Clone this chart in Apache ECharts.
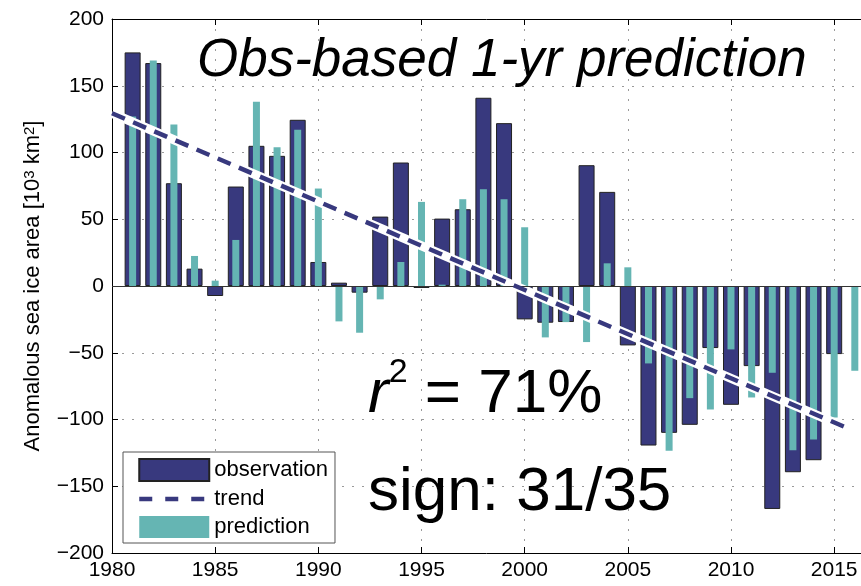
<!DOCTYPE html>
<html>
<head>
<meta charset="utf-8">
<script src="https://cdn.jsdelivr.net/npm/echarts@6/dist/echarts.min.js"></script>
<style>
html,body{margin:0;padding:0;background:#fff;}
#chart{width:861px;height:586px;}
</style>
</head>
<body>
<div id="chart"></div>
<script>
const obsYears = [1981,1982,1983,1984,1985,1986,1987,1988,1989,1990,1991,1992,1993,1994,1995,1996,1997,1998,1999,2000,2001,2002,2003,2004,2005,2006,2007,2008,2009,2010,2011,2012,2013,2014,2015];
const obsValues = [175,167,77,13,-7.5,74.5,105,97.5,124.5,18,2.5,-5,52,92.5,-1.5,50.5,57.5,141,122,-25,-27.5,-27,90.5,70.5,-44.5,-119.5,-110,-104,-46.5,-89,-60,-167,-139.5,-130.5,-51];
const predYears = [1981,1982,1983,1984,1985,1986,1987,1988,1989,1990,1991,1992,1993,1994,1995,1996,1997,1998,1999,2000,2001,2002,2003,2004,2005,2006,2007,2008,2009,2010,2011,2012,2013,2014,2015,2016];
const predValues = [127,169,121,22.5,4,34.5,138,104,117,73,-26.5,-35,-10,18,63,1,65,72.5,65,44,-38.5,-27,-42,17,14,-58,-123.5,-84,-92.5,-47.5,-83.5,-65,-123,-115,-98.5,-63.5];
const trendYears = [1980, 2015.8];
const trendValues = [129.4, -107.5];
const xTicks = [1980,1985,1990,1995,2000,2005,2010,2015];
const yTicks = [-200,-150,-100,-50,0,50,100,150,200];

const FONT = '"Liberation Sans", Arial, Helvetica, sans-serif';
const NAVY = '#38397e';
const TEAL = '#65b5b3';

const pair = (xs, ys) => xs.map((x, i) => [x, ys[i]]);

const chart = echarts.init(document.getElementById('chart'), null, {renderer: 'canvas'});

const gridLine = {show: true, lineStyle: {color: '#9a9a9a', width: 1, type: [2, 8]}};
const X_MAX = 2016.3;

chart.setOption({
  animation: false,
  backgroundColor: '#fff',
  grid: {left: 112, top: 19, right: 0, bottom: 33, containLabel: false},
  xAxis: [
    {
      type: 'value', position: 'bottom', min: 1980, max: X_MAX, interval: 5,
      axisLine: {show: true, onZero: false, lineStyle: {color: '#000', width: 1}},
      axisTick: {show: true, inside: true, length: 6, lineStyle: {color: '#000'}},
      axisLabel: {
        color: '#000', fontSize: 21, fontFamily: FONT, margin: 7,
        showMaxLabel: false,
        formatter: v => xTicks.indexOf(v) >= 0 ? String(v) : ''
      },
      splitLine: gridLine
    },
    {
      type: 'value', position: 'top', min: 1980, max: X_MAX, interval: 5,
      axisLine: {show: true, onZero: false, lineStyle: {color: '#000', width: 1}},
      axisTick: {show: true, inside: true, length: 6, lineStyle: {color: '#000'}},
      axisLabel: {show: false},
      splitLine: {show: false}
    }
  ],
  yAxis: {
    type: 'value', min: -200, max: 200, interval: 50,
    axisLine: {show: true, onZero: false, lineStyle: {color: '#000', width: 1}},
    axisTick: {show: true, inside: true, length: 6, lineStyle: {color: '#000'}},
    axisLabel: {
      color: '#000', fontSize: 21, fontFamily: FONT, margin: 8,
      formatter: v => yTicks.indexOf(v) >= 0 ? String(v).replace('-', '\u2212') : ''
    },
    splitLine: gridLine,
    name: 'Anomalous sea ice area [10{sup|3} km{sup|2}]',
    nameLocation: 'middle',
    nameRotate: 90,
    nameGap: 68,
    nameTextStyle: {
      color: '#000', fontSize: 22, fontFamily: FONT,
      rich: {sup: {fontSize: 15, fontFamily: FONT, color: '#000', verticalAlign: 'top'}}
    }
  },
  legend: {
    orient: 'vertical', left: 123, top: 452,
    padding: [6, 7, 5, 14],
    itemWidth: 70, itemHeight: 22, itemGap: 6,
    borderColor: '#555', borderWidth: 1, backgroundColor: '#fff',
    textStyle: {color: '#000', fontSize: 22, fontFamily: FONT},
    selectedMode: false,
    data: [
      {name: 'observation', icon: 'rect'},
      {name: 'trend', lineStyle: {type: [13, 13], width: 4.5}, itemStyle: {color: 'rgba(0,0,0,0)', borderWidth: 0, opacity: 0}},
      {name: 'prediction', icon: 'rect'}
    ]
  },
  series: [
    {
      name: 'observation', type: 'bar', xAxisIndex: 0,
      data: pair(obsYears, obsValues),
      barWidth: 16,
      itemStyle: {color: NAVY, borderColor: '#222', borderWidth: 1},
      z: 2,
      markLine: {
        silent: true, symbol: 'none', label: {show: false},
        lineStyle: {color: '#333', width: 1, type: 'solid'},
        data: [{yAxis: 0}]
      }
    },
    {
      name: 'prediction', type: 'bar', xAxisIndex: 1,
      data: pair(predYears, predValues),
      barWidth: 7,
      itemStyle: {color: TEAL, borderWidth: 0},
      z: 3
    },
    {
      name: 'trendHalo', type: 'line', xAxisIndex: 0,
      data: pair(trendYears, trendValues),
      symbol: 'none', silent: true,
      lineStyle: {color: '#fff', width: 9, type: 'solid'},
      z: 4
    },
    {
      name: 'trend', type: 'line', xAxisIndex: 0,
      data: pair(trendYears, trendValues),
      symbol: 'none',
      lineStyle: {color: NAVY, width: 4.5, type: [14, 9]},
      itemStyle: {color: NAVY},
      z: 5
    }
  ],
  graphic: [
    {
      type: 'text', z: 10,
      style: {
        text: 'Obs-based 1-yr prediction', x: 197, y: 61,
        font: 'italic 53px ' + FONT, fill: '#000',
        textAlign: 'left', textVerticalAlign: 'middle'
      }
    },
    {
      type: 'text', z: 10,
      style: {
        text: '{r|r}{s|2}{n| = 71%}', x: 368, y: 391,
        textAlign: 'left', textVerticalAlign: 'middle',
        fill: '#000', font: '62px ' + FONT,
        rich: {
          r: {fontSize: 62, fontStyle: 'italic', fontFamily: FONT, lineHeight: 70, verticalAlign: 'bottom'},
          s: {fontSize: 34, fontFamily: FONT, lineHeight: 70, verticalAlign: 'top'},
          n: {fontSize: 62, fontFamily: FONT, lineHeight: 70, verticalAlign: 'bottom'}
        }
      }
    },
    {
      type: 'text', z: 10,
      style: {
        text: 'sign: 31/35', x: 368, y: 493,
        font: '62px ' + FONT, fill: '#000',
        textAlign: 'left', textVerticalAlign: 'middle'
      }
    }
  ]
});
</script>
</body>
</html>
